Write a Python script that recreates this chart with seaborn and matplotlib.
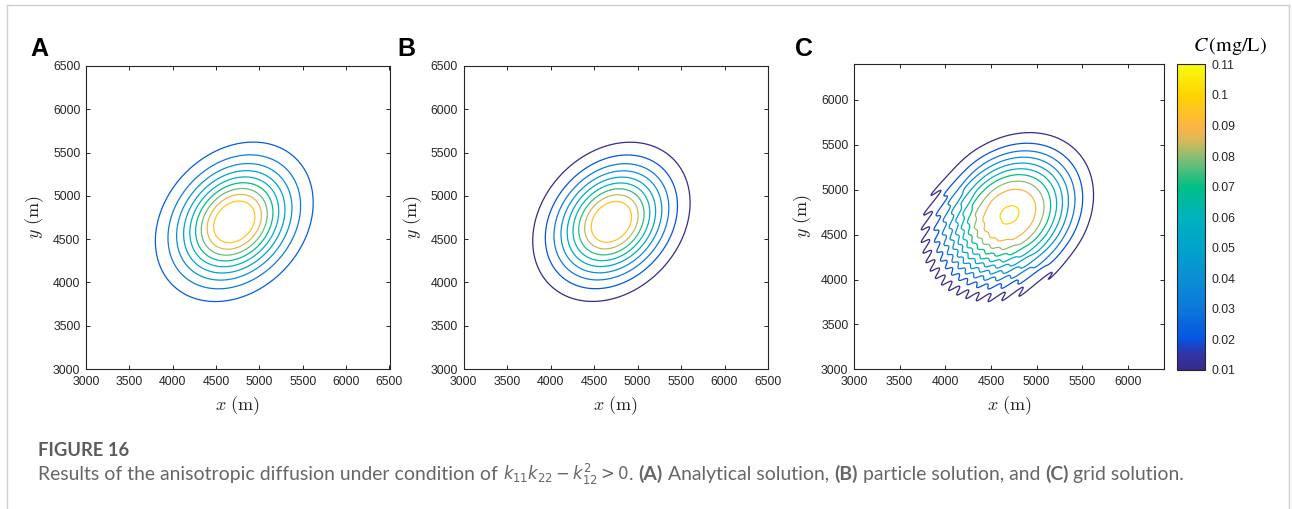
import numpy as np
import matplotlib
matplotlib.use("Agg")
import matplotlib.pyplot as plt
import seaborn as sns
from matplotlib.colors import LinearSegmentedColormap, Normalize
from matplotlib.lines import Line2D
from matplotlib.cm import ScalarMappable

# ---------------- data ----------------
panel_labels = ["A", "B", "C"]
center_x = [4710, 4700, 4705]          # plume centre x (m)
center_y = [4700, 4700, 4720]          # plume centre y (m)
sigma_x = [419, 417, 470]              # spread in x (m)
sigma_y = [424, 424, 468]              # spread in y (m)
rho_xy = [0.24, 0.24, 0.24]            # correlation (tilt)
peak_c = [0.1057, 0.1050, 0.1008]      # peak concentration (mg/L)
shape_exp = [1.0, 1.0, 1.29]           # 1 = Gaussian, >1 flatter top (grid solution)
ripple_amp = [0.0, 0.0, 0.003]         # numerical oscillation amplitude (mg/L)
ripple_wavelength = 140                # m
levels_per_panel = [
    [0.01, 0.02, 0.03, 0.04, 0.05, 0.06, 0.07, 0.08, 0.09],
    [0.01, 0.02, 0.03, 0.04, 0.05, 0.06, 0.07, 0.08, 0.09],
    [0.01, 0.02, 0.03, 0.04, 0.05, 0.06, 0.07, 0.08, 0.09, 0.10],
]
color_limits = [(-0.004, 0.1057), (0.01, 0.105), (0.01, 0.11)]
axis_max = [6500, 6500, 6400]
tick_values = [
    [3000, 3500, 4000, 4500, 5000, 5500, 6000, 6500],
    [3000, 3500, 4000, 4500, 5000, 5500, 6000, 6500],
    [3000, 3500, 4000, 4500, 5000, 5500, 6000],
]
cbar_ticks = [0.01, 0.02, 0.03, 0.04, 0.05, 0.06, 0.07, 0.08, 0.09, 0.10, 0.11]
cbar_ticklabels = ["0.01", "0.02", "0.03", "0.04", "0.05", "0.06",
                   "0.07", "0.08", "0.09", "0.1", "0.11"]

# parula-like colormap
cmap_pos = [0.00, 0.05, 0.10, 0.20, 0.30, 0.40, 0.50, 0.60, 0.70, 0.75, 0.80, 0.85, 0.90, 1.00]
cmap_rgb = [(0.21, 0.17, 0.53), (0.20, 0.20, 0.66), (0.02, 0.33, 0.88),
            (0.05, 0.47, 0.86), (0.04, 0.56, 0.83), (0.00, 0.64, 0.80),
            (0.00, 0.70, 0.74), (0.00, 0.75, 0.52), (0.55, 0.74, 0.45),
            (0.85, 0.72, 0.35), (0.99, 0.71, 0.26), (1.00, 0.77, 0.14),
            (1.00, 0.83, 0.00), (0.97, 0.98, 0.06)]
parula = LinearSegmentedColormap.from_list("parula_like", list(zip(cmap_pos, cmap_rgb)))

# ---------------- style ----------------
sns.set_theme(style="white")
plt.rcParams["font.family"] = ["Liberation Sans", "DejaVu Sans"]
dark = "#262626"

W, H = 1292, 509
fig = plt.figure(figsize=(W / 100, H / 100), dpi=100)
fig.patch.set_facecolor("white")


def fx(px):
    return px / W


def fy(py):
    return 1 - py / H


# axes boxes in pixels: left, right, top, bottom
boxes = [(86, 389.5, 66, 369), (463.5, 768, 66, 369), (854, 1164.3, 64, 369.3)]
letter_x = [30, 397, 795]

grid = np.arange(3000, 6501, 8.0)
X, Y = np.meshgrid(grid, grid)

for i in range(3):
    l, r, t, b = boxes[i]
    ax = fig.add_axes([fx(l), fy(b), (r - l) / W, (b - t) / H])
    dx = X - center_x[i]
    dy = Y - center_y[i]
    sx, sy, rh = sigma_x[i], sigma_y[i], rho_xy[i]
    q = (dx**2 / sx**2 - 2 * rh * dx * dy / (sx * sy) + dy**2 / sy**2) / (1 - rh**2)
    Z = peak_c[i] * np.exp(-((q / 2) ** shape_exp[i]))
    if ripple_amp[i] > 0:
        u = (dx + dy) / np.sqrt(2)
        w = 1 / (1 + np.exp((u + 120) / 110))
        Z = Z + ripple_amp[i] * w * (1 - np.exp(-q / 0.8)) * np.sin(2 * np.pi * (dx - dy) / ripple_wavelength)
    norm = Normalize(*color_limits[i])
    ax.contour(X, Y, Z, levels=levels_per_panel[i], cmap=parula, norm=norm, linewidths=0.9)
    ax.set_xlim(3000, axis_max[i])
    ax.set_ylim(3000, axis_max[i])
    ax.set_xticks(tick_values[i])
    ax.set_yticks(tick_values[i])
    ax.set_xticklabels([str(v) for v in tick_values[i]])
    ax.set_yticklabels([str(v) for v in tick_values[i]])
    ax.tick_params(direction="in", length=3, width=0.7, colors=dark, labelsize=8.8,
                   top=True, right=True, bottom=True, left=True)
    ax.tick_params(axis="x", pad=5)
    ax.tick_params(axis="y", pad=4)
    for s in ax.spines.values():
        s.set_color(dark)
        s.set_linewidth(0.8)
        s.set_visible(True)
    ax.set_facecolor("white")
    ax.grid(False)
    ax.set_xlabel(r"$x\ (\mathrm{m})$", fontsize=13, color=dark, math_fontfamily="cm")
    ax.set_ylabel(r"$y\ (\mathrm{m})$", fontsize=13, color=dark, math_fontfamily="cm")
    ax.xaxis.set_label_coords(0.5, (b - 394) / (b - t))
    ax.yaxis.set_label_coords(-40 / (r - l), 0.5)
    fig.text(fx(letter_x[i]), fy(56.5), panel_labels[i], fontsize=18, fontweight="bold",
             color="black", ha="left", va="baseline")

# colorbar
cax = fig.add_axes([fx(1177), fy(370), 28 / W, (370 - 64.3) / H])
sm = ScalarMappable(norm=Normalize(0.01, 0.11), cmap=parula)
cb = fig.colorbar(sm, cax=cax, ticks=cbar_ticks)
cb.set_ticklabels(cbar_ticklabels)
cb.outline.set_edgecolor(dark)
cb.outline.set_linewidth(0.8)
cax.tick_params(direction="in", length=3, width=0.7, colors=dark, labelsize=8.8, pad=5)
fig.text(fx(1230), fy(46), r"$C\,\mathrm{(mg/L)}$", fontsize=14.5, color="black",
         ha="center", va="center", math_fontfamily="stix")

# outer frame
frame_col = "#cfcfcf"
fig.add_artist(Line2D([fx(6.5), fx(6.5)], [fy(5), 0], color=frame_col, lw=1.0))
fig.add_artist(Line2D([fx(6.5), fx(1289)], [fy(5), fy(5)], color=frame_col, lw=1.0))
fig.add_artist(Line2D([fx(1289), fx(1289)], [fy(5), 0], color=frame_col, lw=1.0))

# caption
cap_col = "#666666"
renderer = fig.canvas.get_renderer()


def width_of(t):
    return t.get_window_extent(renderer).width


fig_title = fig.text(fx(38), fy(456.5), "FIGURE 16", fontsize=11, fontweight="bold",
                     color="#5c5c5c", family="Lato", ha="left", va="baseline")
wt = width_of(fig_title)
fig_title.set_fontsize(11 * (129 - 38) / wt)

pieces = [
    ("Results of the anisotropic diffusion under condition of", "normal", False, True),
    (r"$k_{11}k_{22}-k_{12}^{2}>0$", "normal", True, False),
    (".", "normal", False, True),
    ("(A)", "bold", False, False),
    ("Analytical solution,", "normal", False, True),
    ("(B)", "bold", False, False),
    ("particle solution, and", "normal", False, True),
    ("(C)", "bold", False, False),
    ("grid solution.", "normal", False, False),
]


def place_caption(fs):
    texts = []
    x = 38.0
    probe1 = fig.text(0, 0, "a a", fontsize=fs, family="Lato")
    probe2 = fig.text(0, 0, "aa", fontsize=fs, family="Lato")
    space = width_of(probe1) - width_of(probe2)
    probe1.remove()
    probe2.remove()
    for k, (txt, wgt, is_math, space_after) in enumerate(pieces):
        kw = dict(fontsize=fs, fontweight=wgt, color=cap_col, family="Lato",
                  ha="left", va="baseline")
        if is_math:
            kw["math_fontfamily"] = "dejavusans"
            kw["fontsize"] = fs * 0.85
        t = fig.text(fx(x), fy(480), txt, **kw)
        texts.append(t)
        x += width_of(t)
        nxt_nospace = (k + 1 < len(pieces) and pieces[k + 1][0] == ".")
        if not nxt_nospace:
            x += space
    return texts, x - space - 38


texts, total = place_caption(11.0)
for t in texts:
    t.remove()
texts, total = place_caption(11.0 * (1183 - 38) / total)

fig.savefig("out.png", dpi=100, facecolor="white")
